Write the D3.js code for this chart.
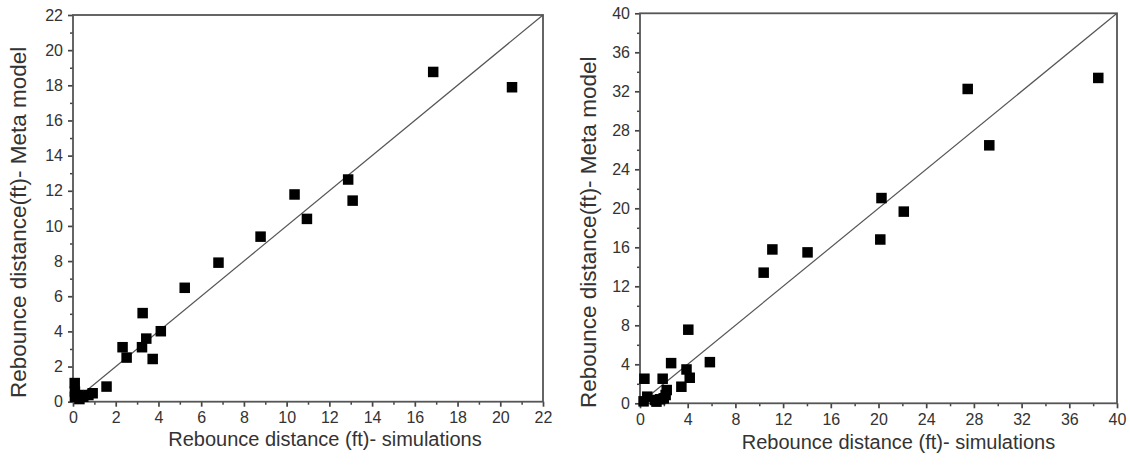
<!DOCTYPE html>
<html><head><meta charset="utf-8">
<script src="https://cdn.jsdelivr.net/npm/d3@7"></script>
<style>body{margin:0;background:#fff}svg{display:block}text{font-family:"Liberation Sans",Arial,sans-serif;fill:#333}</style>
</head><body><svg id="c" width="1130" height="466"></svg>
<script>
// Left panel data
const leftSim  = [20.55,16.86,12.88,13.09,10.37,10.95,8.78,6.81,5.23,3.26,4.11,3.43,3.23,2.32,2.51,3.73,1.57,0.08,0.09,0.25,0.48,0.72,0.92,0.09,0.30];
const leftMeta = [17.89,18.76,12.64,11.44,11.79,10.40,9.39,7.91,6.48,5.04,4.01,3.59,3.10,3.10,2.51,2.43,0.86,1.06,0.57,0.38,0.28,0.38,0.48,0.28,0.15];
// Right panel data
const rightSim  = [38.43,27.48,29.29,20.25,22.12,20.15,11.10,14.05,10.37,4.05,5.86,2.61,0.37,1.90,3.90,4.17,3.47,2.24,0.61,1.99,0.30,1.26,1.69,2.15,1.38];
const rightMeta = [33.37,32.24,26.46,21.05,19.66,16.80,15.78,15.48,13.40,7.55,4.22,4.12,2.52,2.52,3.47,2.62,1.70,1.36,0.68,0.51,0.20,0.34,0.41,0.85,0.17];
const leftTicks = [0,2,4,6,8,10,12,14,16,18,20,22];
const rightTicks = [0,4,8,12,16,20,24,28,32,36,40];
const xTitle = "Rebounce distance (ft)- simulations";
const yTitle = "Rebounce distance(ft)- Meta model";

const svg = d3.select("#c");
function panel(cfg){
  const g = svg.append("g");
  const x = d3.scaleLinear().domain([0,cfg.max]).range([cfg.x0,cfg.x1]);
  const y = d3.scaleLinear().domain([0,cfg.max]).range([cfg.y0,cfg.y1]);
  const minor = d3.range(0,cfg.max+0.001,cfg.minorStep).filter(v=>!cfg.ticks.includes(v));
  // minor ticks
  g.append("g").attr("transform",`translate(0,${cfg.y0})`)
    .call(d3.axisBottom(x).tickValues(minor).tickSize(3).tickFormat(""))
    .call(a=>a.select(".domain").remove()).selectAll("line").attr("stroke","#444").attr("stroke-width",1.5);
  g.append("g").attr("transform",`translate(${cfg.x0},0)`)
    .call(d3.axisLeft(y).tickValues(minor).tickSize(3).tickFormat(""))
    .call(a=>a.select(".domain").remove()).selectAll("line").attr("stroke","#444").attr("stroke-width",1.5);
  // major
  const xa = g.append("g").attr("transform",`translate(0,${cfg.y0})`)
    .call(d3.axisBottom(x).tickValues(cfg.ticks).tickSize(5).tickPadding(5).tickFormat(d3.format("d")));
  xa.select(".domain").remove();
  xa.selectAll("line").attr("stroke","#444").attr("stroke-width",1.7);
  xa.selectAll("text").attr("font-size",16).attr("fill","#333").style("font-family","Liberation Sans, Arial");
  const ya = g.append("g").attr("transform",`translate(${cfg.x0},0)`)
    .call(d3.axisLeft(y).tickValues(cfg.ticks).tickSize(5).tickPadding(5).tickFormat(d3.format("d")));
  ya.select(".domain").remove();
  ya.selectAll("line").attr("stroke","#444").attr("stroke-width",1.7);
  ya.selectAll("text").attr("font-size",16).attr("fill","#333").style("font-family","Liberation Sans, Arial");
  // frame
  g.append("rect").attr("x",x(0)).attr("y",y(cfg.max)).attr("width",x(cfg.max)-x(0)).attr("height",y(0)-y(cfg.max))
    .attr("fill","none").attr("stroke","#555").attr("stroke-width",1.8);
  // diagonal
  g.append("line").attr("x1",x(0)).attr("y1",y(0)).attr("x2",x(cfg.max)).attr("y2",y(cfg.max))
    .attr("stroke","#555").attr("stroke-width",1.2);
  // points
  const s = 10.5;
  g.selectAll("rect.pt").data(d3.range(cfg.sim.length)).join("rect").attr("class","pt")
    .attr("x",i=>x(cfg.sim[i])-s/2).attr("y",i=>y(cfg.meta[i])-s/2).attr("width",s).attr("height",s).attr("fill","#000");
  // titles
  g.append("text").attr("x",(cfg.x0+cfg.x1)/2+cfg.xtOff).attr("y",cfg.xtY).attr("text-anchor","middle")
    .attr("font-size",20).text(xTitle);
  g.append("text").attr("transform",`translate(${cfg.ytX},${(cfg.y0+cfg.y1)/2+cfg.ytOff}) rotate(-90)`).attr("text-anchor","middle")
    .attr("font-size",22.5).text(yTitle);
}
panel({max:22,x0:73,x1:543,y0:401.7,y1:15,ticks:leftTicks,minorStep:1,sim:leftSim,meta:leftMeta,xtOff:17,xtY:446,ytX:26,ytOff:14});
panel({max:40,x0:640,x1:1117,y0:403.3,y1:13.3,ticks:rightTicks,minorStep:2,sim:rightSim,meta:rightMeta,xtOff:20,xtY:449,ytX:596,ytOff:24});
</script></body></html>
